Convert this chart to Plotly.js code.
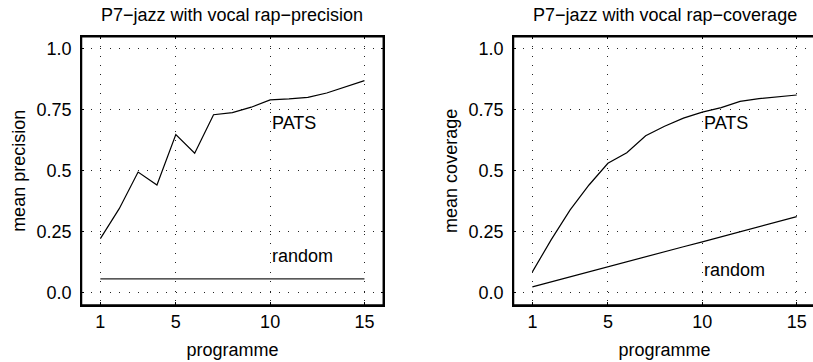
<!DOCTYPE html>
<html>
<head>
<meta charset="utf-8">
<script src="https://cdn.plot.ly/plotly-3.0.1.min.js"></script>
<style>
html,body{margin:0;padding:0;width:813px;height:362px;overflow:hidden;background:#fff;}
#chart{width:830px;height:362px;}
</style>
</head>
<body>
<div id="chart"></div>
<script>
// ---- data ----
var programme = [1, 2, 3, 4, 5, 6, 7, 8, 9, 10, 11, 12, 13, 14, 15];
var precisionPATS = [0.222, 0.345, 0.495, 0.442, 0.649, 0.572, 0.730, 0.739, 0.761, 0.791, 0.795, 0.801, 0.819, 0.843, 0.870];
var precisionRandom = [0.057, 0.057, 0.057, 0.057, 0.057, 0.057, 0.057, 0.057, 0.057, 0.057, 0.057, 0.057, 0.057, 0.057, 0.057];
var coveragePATS = [0.086, 0.218, 0.340, 0.442, 0.531, 0.574, 0.644, 0.683, 0.716, 0.741, 0.759, 0.785, 0.796, 0.805, 0.811];
var coverageRandom = [0.024, 0.045, 0.065, 0.086, 0.107, 0.127, 0.148, 0.168, 0.189, 0.209, 0.230, 0.250, 0.271, 0.291, 0.312];
var xTickVals = [1, 5, 10, 15];
var yTickVals = [0, 0.25, 0.5, 0.75, 1.0];
var yTickText = ["0.0", "0.25", "0.5", "0.75", "1.0"];
var titles = ["P7\u2212jazz with vocal rap\u2212precision", "P7\u2212jazz with vocal rap\u2212coverage"];
var yTitles = ["mean precision", "mean coverage"];
var xTitle = "programme";
var seriesLabels = ["PATS", "random"];

// ---- layout ----
var W = 830, H = 362;
var FONT = "Liberation Sans, Arial, Helvetica, sans-serif";
var fs = 18;
var lineStyle = {color: "#000", width: 1.2};
// small gap between y tick labels and the axis box
var yTickLabels = yTickText.map(function (t) { return t + "\u2005"; });

var traces = [
  {x: programme, y: precisionPATS, xaxis: "x", yaxis: "y", mode: "lines", line: lineStyle, hoverinfo: "skip"},
  {x: programme, y: precisionRandom, xaxis: "x", yaxis: "y", mode: "lines", line: {color: "#222", width: 1.4}, hoverinfo: "skip"},
  {x: programme, y: coveragePATS, xaxis: "x2", yaxis: "y2", mode: "lines", line: lineStyle, hoverinfo: "skip"},
  {x: programme, y: coverageRandom, xaxis: "x2", yaxis: "y2", mode: "lines", line: lineStyle, hoverinfo: "skip"}
];

function xAxis(domain, anchor) {
  return {
    domain: domain, anchor: anchor, range: [0, 16],
    tickvals: xTickVals, ticks: "inside", ticklen: 3, tickwidth: 1, tickcolor: "#000",
    showline: true, linecolor: "#000", linewidth: 1.5, mirror: "ticks",
    showgrid: true, gridcolor: "#222", gridwidth: 1, griddash: "1px,8.4px",
    zeroline: false, fixedrange: true,
    tickfont: {family: FONT, size: fs, color: "#000"},
    title: {text: xTitle, font: {family: FONT, size: fs, color: "#000"}, standoff: 12}
  };
}
function yAxis(domain, anchor, title) {
  return {
    domain: domain, anchor: anchor, range: [-0.05, 1.05],
    tickvals: yTickVals, ticktext: yTickLabels, ticks: "inside", ticklen: 3, tickwidth: 1, tickcolor: "#000",
    showline: true, linecolor: "#000", linewidth: 1.5, mirror: "ticks",
    showgrid: true, gridcolor: "#222", gridwidth: 1, griddash: "1px,8.4px",
    zeroline: false, fixedrange: true,
    tickfont: {family: FONT, size: fs, color: "#000"},
    title: {text: title, font: {family: FONT, size: fs, color: "#000"}, standoff: 6}
  };
}

var d1 = [81.5 / W, 383.3 / W];
var d2 = [513.5 / W, 815.6 / W];
var dy = [1 - 305 / H, 1 - 36.7 / H];

var ann = [
  {text: titles[0], xref: "paper", yref: "paper", x: (d1[0] + d1[1]) / 2, y: 1 - 15 / H, xanchor: "center", yanchor: "middle", showarrow: false, font: {family: FONT, size: fs, color: "#000"}},
  {text: titles[1], xref: "paper", yref: "paper", x: (d2[0] + d2[1]) / 2, y: 1 - 15 / H, xanchor: "center", yanchor: "middle", showarrow: false, font: {family: FONT, size: fs, color: "#000"}},
  {text: seriesLabels[0], xref: "x", yref: "y", x: 10, y: 0.697, xanchor: "left", yanchor: "middle", showarrow: false, font: {family: FONT, size: fs, color: "#000"}},
  {text: seriesLabels[1], xref: "x", yref: "y", x: 10, y: 0.149, xanchor: "left", yanchor: "middle", showarrow: false, font: {family: FONT, size: fs, color: "#000"}},
  {text: seriesLabels[0], xref: "x2", yref: "y2", x: 10, y: 0.698, xanchor: "left", yanchor: "middle", showarrow: false, font: {family: FONT, size: fs, color: "#000"}},
  {text: seriesLabels[1], xref: "x2", yref: "y2", x: 10, y: 0.095, xanchor: "left", yanchor: "middle", showarrow: false, font: {family: FONT, size: fs, color: "#000"}}
];

// axes frame (box around each panel)
var frames = [
  {type: "rect", xref: "x domain", yref: "y domain", x0: 0, x1: 1, y0: 0, y1: 1, line: {color: "#000", width: 1.5}, layer: "above"},
  {type: "rect", xref: "x2 domain", yref: "y2 domain", x0: 0, x1: 1, y0: 0, y1: 1, line: {color: "#000", width: 1.5}, layer: "above"}
];

var layout = {
  width: W, height: H,
  margin: {l: 0, r: 0, t: 0, b: 0, pad: 0},
  paper_bgcolor: "#fff", plot_bgcolor: "#fff",
  showlegend: false,
  font: {family: FONT, size: fs, color: "#000"},
  xaxis: xAxis(d1, "y"), yaxis: yAxis(dy, "x", yTitles[0]),
  xaxis2: xAxis(d2, "y2"), yaxis2: yAxis(dy, "x2", yTitles[1]),
  annotations: ann,
  shapes: frames
};

Plotly.newPlot("chart", traces, layout, {displayModeBar: false, responsive: false});
</script>
</body>
</html>
